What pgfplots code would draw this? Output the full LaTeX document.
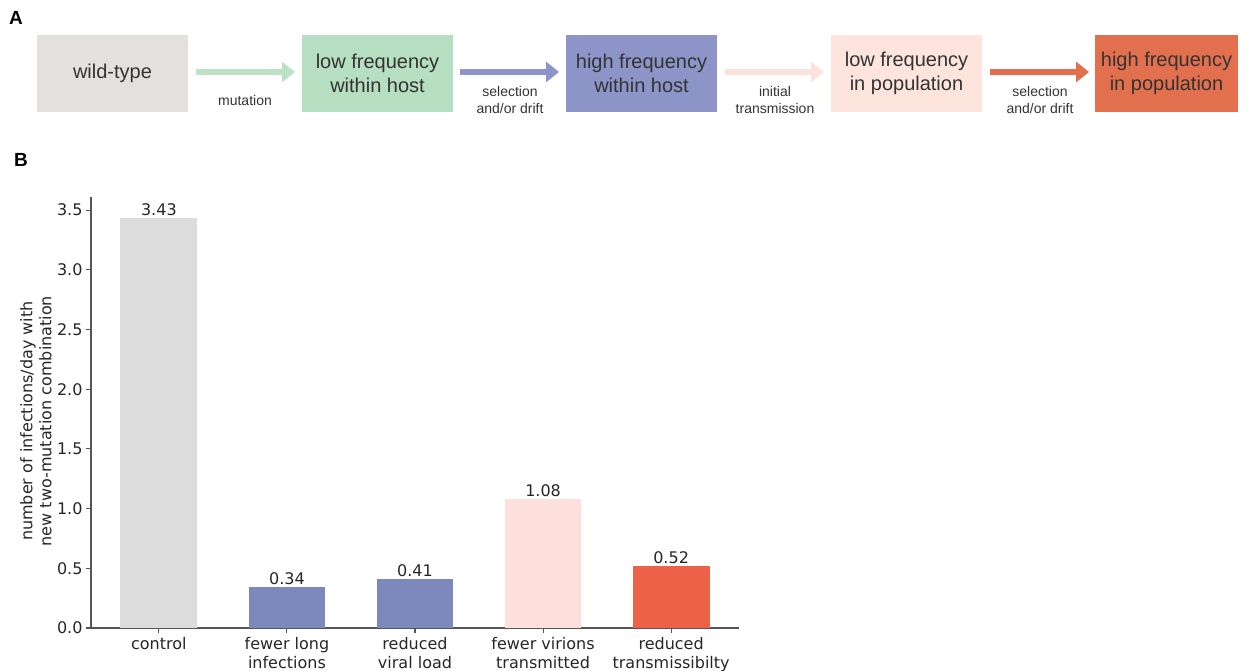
\documentclass[border=0pt]{standalone}
\usepackage{fontspec}
\setmainfont{DejaVu Sans}
\newfontfamily\arialfont{Liberation Sans}
\usepackage{pgfplots}
\pgfplotsset{compat=1.18}
\usetikzlibrary{arrows.meta}
\definecolor{boxgray}{HTML}{E3E1DE}
\definecolor{boxgreen}{HTML}{B6DEC0}
\definecolor{boxblue}{HTML}{8D95C8}
\definecolor{boxpink}{HTML}{FDE4DD}
\definecolor{boxorange}{HTML}{E2704F}
\definecolor{arrgreen}{HTML}{BCE2C5}
\definecolor{arrpink}{HTML}{FBE3DD}
\definecolor{txtA}{HTML}{333333}
\definecolor{txtB}{HTML}{262626}
\definecolor{spine}{HTML}{555555}
\definecolor{barcontrol}{HTML}{DCDCDC}
\definecolor{barblue}{HTML}{7D89BC}
\definecolor{barpink}{HTML}{FDE0DC}
\definecolor{barred}{HTML}{EE6149}
\begin{document}
\begin{tikzpicture}
\useasboundingbox (0,0) rectangle (1249bp,671bp);
% ---------- Panel A ----------
\node[anchor=center, text=black, font=\arialfont\bfseries\fontsize{19bp}{22bp}\selectfont] at (16bp,653bp) {A};
\tikzset{boxtxt/.style={text=txtA, align=center, font=\arialfont\fontsize{20bp}{24bp}\selectfont},
 arrtxt/.style={text=txtA, align=center, font=\arialfont\fontsize{14bp}{16.5bp}\selectfont},
 arr/.style={line width=6bp, -{Triangle[length=13bp,width=20bp]}}}
\fill[boxgray]   (37bp,559bp) rectangle (188bp,636bp);
\fill[boxgreen]  (302bp,559bp) rectangle (453bp,636bp);
\fill[boxblue]   (566bp,559bp) rectangle (717bp,636bp);
\fill[boxpink]   (831bp,559bp) rectangle (982bp,636bp);
\fill[boxorange] (1095bp,559bp) rectangle (1238bp,636bp);
\node[boxtxt] at (112.5bp,597.5bp) {wild-type};
\node[boxtxt] at (377.5bp,597.5bp) {low frequency\\within host};
\node[boxtxt] at (641.5bp,597.5bp) {high frequency\\within host};
\node[boxtxt] at (906.5bp,597.5bp) {low frequency\\in population};
\node[boxtxt] at (1166.5bp,597.5bp) {high frequency\\in population};
\draw[arr, arrgreen] (196bp,599bp) -- (295bp,599bp);
\draw[arr, boxblue] (460bp,599bp) -- (559bp,599bp);
\draw[arr, arrpink] (725bp,599bp) -- (824bp,599bp);
\draw[arr, boxorange] (990bp,599bp) -- (1089bp,599bp);
\node[arrtxt] at (245bp,570bp) {mutation};
\node[arrtxt] at (510bp,571bp) {selection\\and/or drift};
\node[arrtxt] at (775bp,571bp) {initial\\transmission};
\node[arrtxt] at (1040bp,571bp) {selection\\and/or drift};
% ---------- Panel B ----------
\node[anchor=center, text=black, font=\arialfont\bfseries\fontsize{19bp}{22bp}\selectfont] at (21bp,511bp) {B};
\begin{axis}[
  at={(91bp,43bp)}, anchor=south west,
  scale only axis, width=648bp, height=431bp,
  xmin=-0.53, xmax=4.53, ymin=0, ymax=3.61,
  axis x line*=bottom, axis y line*=left,
  axis line style={spine, line width=1.2bp},
  tick style={spine, line width=1.1bp},
  tick align=outside, major tick length=5bp,
  xtick={0,1,2,3,4},
  xticklabels={control,{fewer long\\infections},{reduced\\viral load},{fewer virions\\transmitted},{reduced\\transmissibilty}},
  xticklabel style={align=center, text=txtB, font=\fontsize{16bp}{19bp}\selectfont, yshift=-1bp},
  ytick={0,0.5,1,1.5,2,2.5,3,3.5},
  yticklabel style={text=txtB, font=\fontsize{16bp}{19bp}\selectfont, /pgf/number format/.cd, fixed, fixed zerofill, precision=1, assume math mode=true},
  ylabel={number of infections/day with\\new two-mutation combination},
  ylabel style={at={(axis description cs:-0.085,0.48)}, anchor=center, align=center, text=txtB, font=\fontsize{16bp}{19bp}\selectfont},
  nodes near coords,
  every node near coord/.append style={text=txtB, font=\fontsize{16bp}{19bp}\selectfont, anchor=south, yshift=-1bp, /pgf/number format/.cd, fixed, fixed zerofill, precision=2, assume math mode=true},
  clip=false,
]
\addplot[ybar, bar width=0.6, fill=barcontrol, draw=none] coordinates {(0,3.43)};
\addplot[ybar, bar width=0.6, fill=barblue, draw=none] coordinates {(1,0.34)};
\addplot[ybar, bar width=0.6, fill=barblue, draw=none] coordinates {(2,0.41)};
\addplot[ybar, bar width=0.6, fill=barpink, draw=none] coordinates {(3,1.08)};
\addplot[ybar, bar width=0.6, fill=barred, draw=none] coordinates {(4,0.52)};
\end{axis}
\end{tikzpicture}
\end{document}
